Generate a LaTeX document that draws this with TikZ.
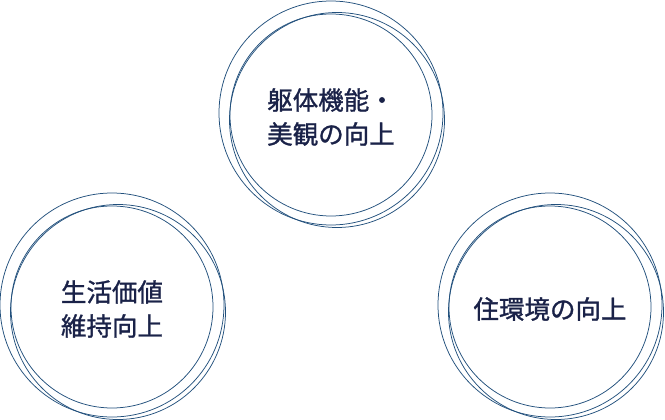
\documentclass[tikz,border=0pt]{standalone}
\usepackage{fontspec}
\newfontfamily\jpfont[FakeBold=1.2]{Noto Sans CJK JP}
\definecolor{ringblue}{RGB}{34,80,124}
\definecolor{textnavy}{RGB}{26,34,72}

\tikzset{
  ring/.style={draw=ringblue,line width=0.75pt},
  goal/.style={text=textnavy,align=center,font=\jpfont\fontsize{25.5}{34}\selectfont}
}

\begin{document}
\begin{tikzpicture}[x=1pt,y=-1pt]
  \useasboundingbox (0,0) rectangle (665,420);

  % three rings per group: top, left, right
  \foreach \dx/\dy in {0/0,-219/192,219/192} {
    \draw[ring] (331+\dx,113+\dy) circle[radius=112pt];
    \draw[ring] (337+\dx,120+\dy) circle[radius=107.5pt];
    \draw[ring] (331+\dx,115+\dy) circle[radius=101pt];
  }

  \node[goal] (shutai) at (331,117) {躯体機能・\\美観の向上};
  \node[goal] (seikatsu) at (112,309) {生活価値\\維持向上};
  \node[goal] (kankyo) at (550,309) {住環境の向上};
\end{tikzpicture}
\end{document}
